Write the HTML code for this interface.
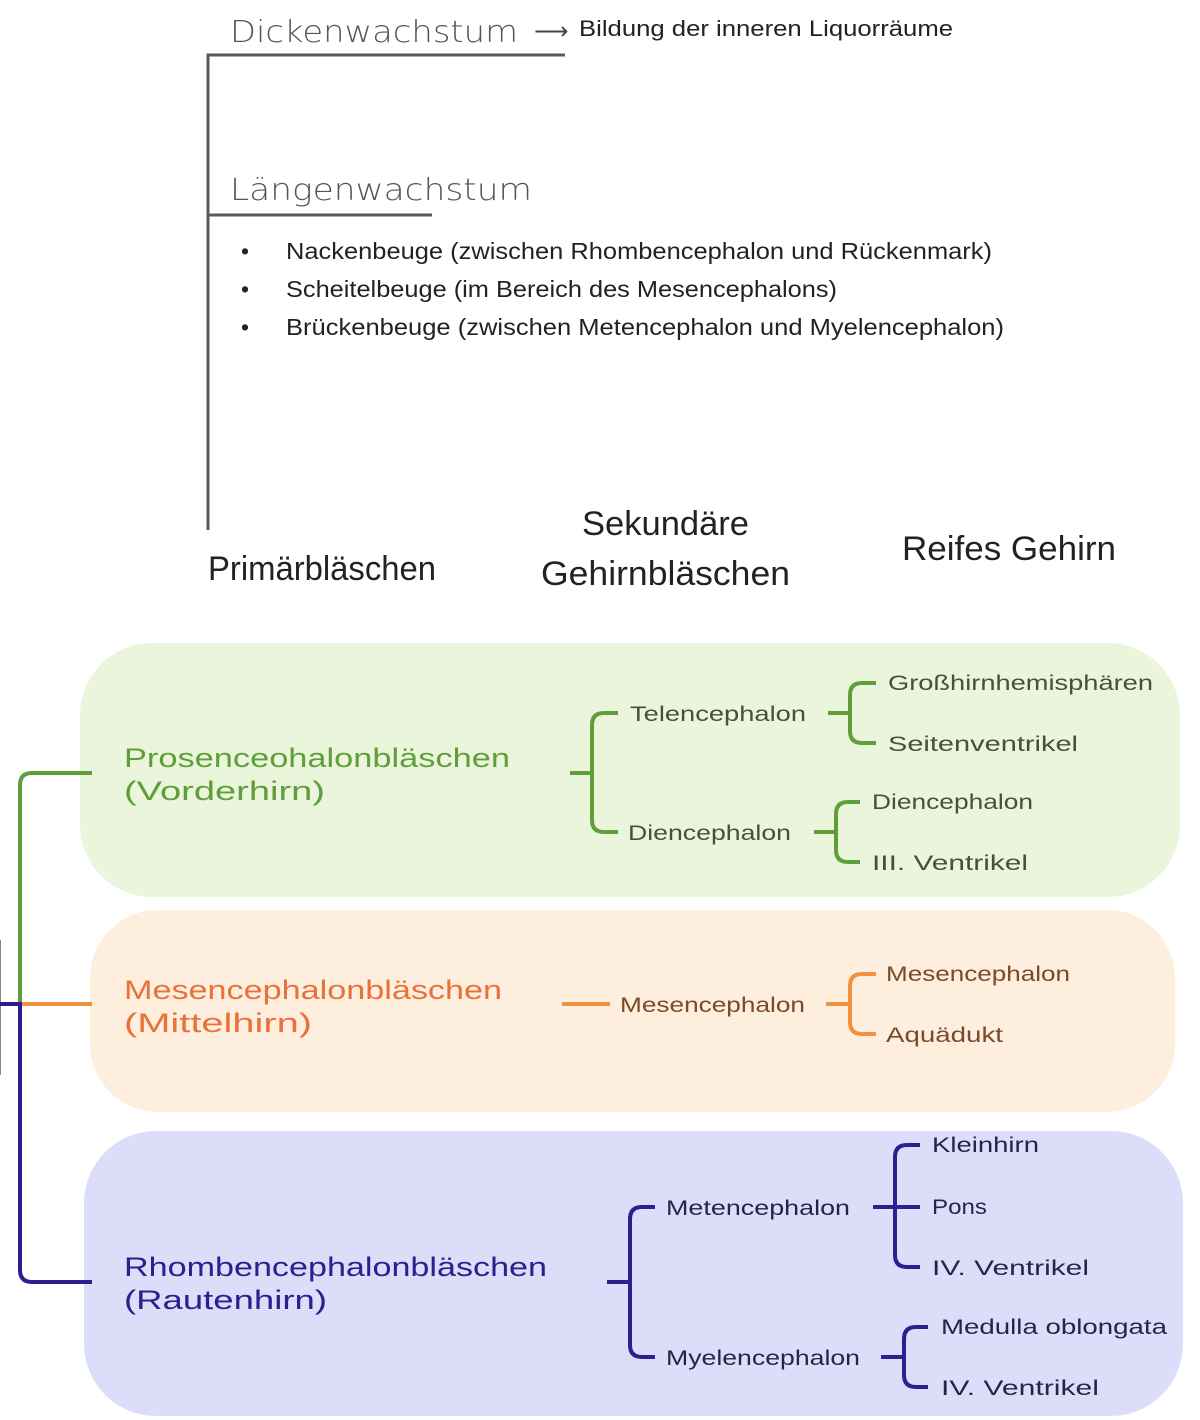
<!DOCTYPE html>
<html><head><meta charset="utf-8"><style>
html,body{margin:0;padding:0;background:#fff;}
svg{display:block;}
.h{font-family:"Liberation Sans",sans-serif;}
</style></head><body>
<svg width="1200" height="1420" viewBox="0 0 1200 1420" xmlns="http://www.w3.org/2000/svg" font-family="Liberation Sans, DejaVu Sans, sans-serif">
<!-- top section -->
<g stroke="#5a5a5a" stroke-width="3" fill="none">
<path d="M208 530 V55 H565"/>
<path d="M208 215 H432"/>
</g>
<text x="230" y="42" font-size="30" fill="#555" textLength="288" lengthAdjust="spacingAndGlyphs" font-family="DejaVu Sans, sans-serif" font-weight="300">Dickenwachstum</text>
<text x="534" y="39" font-size="24" fill="#444">⟶</text>
<text x="579" y="36" font-size="22" fill="#222" textLength="374" lengthAdjust="spacingAndGlyphs">Bildung der inneren Liquorräume</text>
<text x="230" y="200" font-size="30" fill="#555" textLength="302" lengthAdjust="spacingAndGlyphs" font-family="DejaVu Sans, sans-serif" font-weight="300">Längenwachstum</text>
<g font-size="23" fill="#222">
<text x="241" y="259">•</text><text x="286" y="259" textLength="706" lengthAdjust="spacingAndGlyphs">Nackenbeuge (zwischen Rhombencephalon und Rückenmark)</text>
<text x="241" y="297">•</text><text x="286" y="297" textLength="551" lengthAdjust="spacingAndGlyphs">Scheitelbeuge (im Bereich des Mesencephalons)</text>
<text x="241" y="335">•</text><text x="286" y="335" textLength="718" lengthAdjust="spacingAndGlyphs">Brückenbeuge (zwischen Metencephalon und Myelencephalon)</text>
</g>
<g font-size="34" fill="#222">
<text x="208" y="580" textLength="228" lengthAdjust="spacingAndGlyphs">Primärbläschen</text>
<text x="582" y="535" textLength="167" lengthAdjust="spacingAndGlyphs">Sekundäre</text>
<text x="541" y="585" textLength="249" lengthAdjust="spacingAndGlyphs">Gehirnbläschen</text>
<text x="902" y="560" textLength="214" lengthAdjust="spacingAndGlyphs">Reifes Gehirn</text>
</g>
<!-- boxes -->
<rect x="80" y="643" width="1100" height="254" rx="72" fill="#eaf5dc"/>
<rect x="90" y="910" width="1085" height="202" rx="68" fill="#fdeedd"/>
<rect x="84" y="1131" width="1099" height="285" rx="72" fill="#dcdef9"/>
<!-- left connectors -->
<line x1="0" y1="940" x2="0" y2="1075" stroke="#888" stroke-width="2"/>
<path d="M92 773 H32 Q20 773 20 785 V1004" stroke="#5f9e3a" stroke-width="4" fill="none"/>
<path d="M20 1004 H92" stroke="#f0913f" stroke-width="4" fill="none"/>
<path d="M0 1004 H20 V1270 Q20 1282 32 1282 H92" stroke="#2b2090" stroke-width="4" fill="none"/>
<!-- main labels -->
<g font-size="27">
<text x="124" y="767" fill="#5f9e3a" textLength="386" lengthAdjust="spacingAndGlyphs">Prosenceohalonbläschen</text>
<text x="124" y="800" fill="#5f9e3a" textLength="201" lengthAdjust="spacingAndGlyphs">(Vorderhirn)</text>
<text x="124" y="999" fill="#e8733a" textLength="378" lengthAdjust="spacingAndGlyphs">Mesencephalonbläschen</text>
<text x="124" y="1032" fill="#e8733a" textLength="188" lengthAdjust="spacingAndGlyphs">(Mittelhirn)</text>
<text x="124" y="1276" fill="#2b2090" textLength="423" lengthAdjust="spacingAndGlyphs">Rhombencephalonbläschen</text>
<text x="124" y="1309" fill="#2b2090" textLength="203" lengthAdjust="spacingAndGlyphs">(Rautenhirn)</text>
</g>
<!-- green brackets -->
<g stroke="#5f9e3a" stroke-width="4" fill="none">
<path d="M570 773 H592"/>
<path d="M618 713 H604 Q592 713 592 725 V820 Q592 832 604 832 H618"/>
<path d="M828 713 H850"/>
<path d="M876 683 H862 Q850 683 850 695 V731 Q850 743 862 743 H876"/>
<path d="M814 832 H836"/>
<path d="M860 802 H848 Q836 802 836 814 V850 Q836 862 848 862 H860"/>
</g>
<g font-size="21" fill="#46503a">
<text x="630" y="721" textLength="176" lengthAdjust="spacingAndGlyphs">Telencephalon</text>
<text x="628" y="840" textLength="163" lengthAdjust="spacingAndGlyphs">Diencephalon</text>
<text x="888" y="690" textLength="265" lengthAdjust="spacingAndGlyphs">Großhirnhemisphären</text>
<text x="888" y="751" textLength="190" lengthAdjust="spacingAndGlyphs">Seitenventrikel</text>
<text x="872" y="809" textLength="161" lengthAdjust="spacingAndGlyphs">Diencephalon</text>
<text x="872" y="870" textLength="156" lengthAdjust="spacingAndGlyphs">III. Ventrikel</text>
</g>
<!-- orange -->
<g stroke="#f0913f" stroke-width="4" fill="none">
<path d="M562 1004 H610"/>
<path d="M826 1004 H850"/>
<path d="M876 974 H862 Q850 974 850 986 V1022 Q850 1034 862 1034 H876"/>
</g>
<g font-size="21" fill="#7a4a2a">
<text x="620" y="1012" textLength="185" lengthAdjust="spacingAndGlyphs">Mesencephalon</text>
<text x="886" y="981" textLength="184" lengthAdjust="spacingAndGlyphs">Mesencephalon</text>
<text x="886" y="1042" textLength="117" lengthAdjust="spacingAndGlyphs">Aquädukt</text>
</g>
<!-- purple -->
<g stroke="#2b2090" stroke-width="4" fill="none">
<path d="M607 1282 H630"/>
<path d="M655 1207 H642 Q630 1207 630 1219 V1345 Q630 1357 642 1357 H655"/>
<path d="M873 1207 H920"/>
<path d="M920 1145 H907 Q895 1145 895 1157 V1255 Q895 1267 907 1267 H920"/>
<path d="M881 1357 H904"/>
<path d="M928 1327 H916 Q904 1327 904 1339 V1375 Q904 1387 916 1387 H928"/>
</g>
<g font-size="21" fill="#25254a">
<text x="666" y="1215" textLength="184" lengthAdjust="spacingAndGlyphs">Metencephalon</text>
<text x="666" y="1365" textLength="194" lengthAdjust="spacingAndGlyphs">Myelencephalon</text>
<text x="932" y="1152" textLength="107" lengthAdjust="spacingAndGlyphs">Kleinhirn</text>
<text x="932" y="1214" textLength="55" lengthAdjust="spacingAndGlyphs">Pons</text>
<text x="932" y="1275" textLength="157" lengthAdjust="spacingAndGlyphs">IV. Ventrikel</text>
<text x="941" y="1334" textLength="226" lengthAdjust="spacingAndGlyphs">Medulla oblongata</text>
<text x="941" y="1395" textLength="158" lengthAdjust="spacingAndGlyphs">IV. Ventrikel</text>
</g>
</svg>
</body></html>
